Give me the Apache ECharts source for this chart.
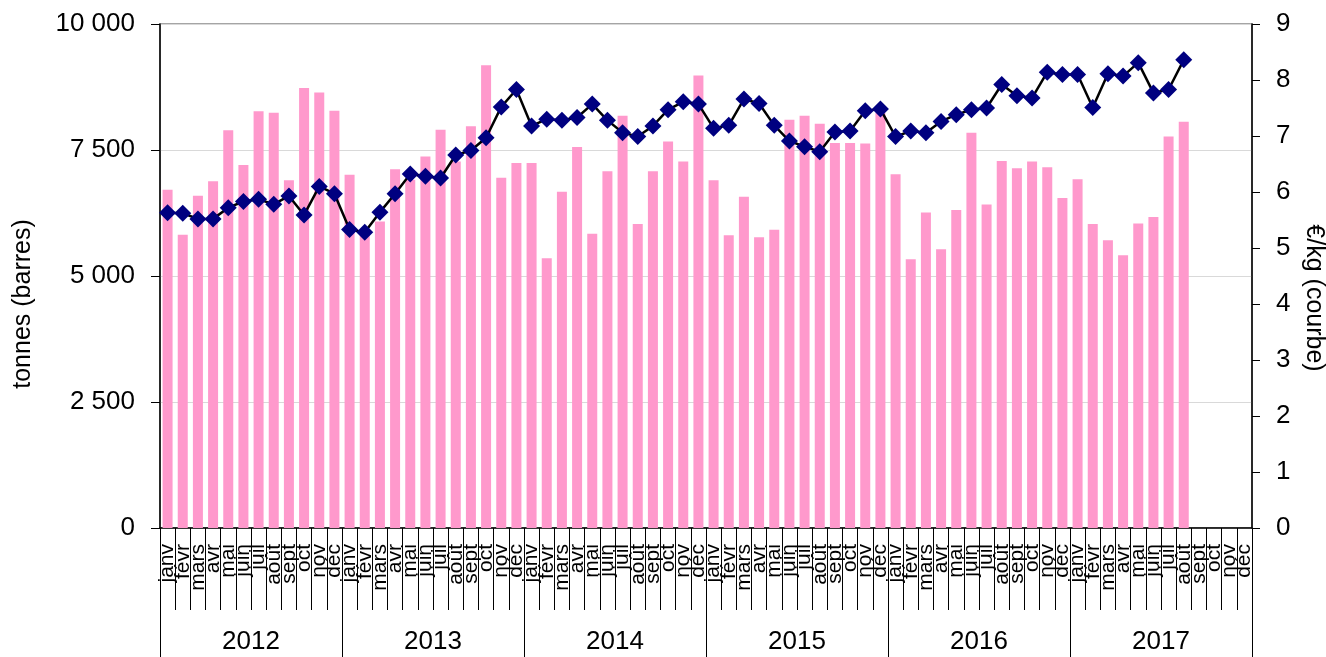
<!DOCTYPE html>
<html lang="fr">
<head>
    <meta charset="UTF-8">
    <title>tonnes et prix</title>
    <script src="https://cdn.jsdelivr.net/npm/echarts@6/dist/echarts.min.js"></script>
    <style>
        html, body { margin: 0; padding: 0; background: #fff; }
        .box { width: 1326px; height: 657px; }
    </style>
</head>
<body>
<div id="chart" class="box"></div>
<script>
    var mois = ['janv', 'févr', 'mars', 'avr', 'mai', 'juin', 'juil', 'août', 'sept', 'oct', 'nov', 'déc'];
    var annees = ['2012', '2013', '2014', '2015', '2016', '2017'];

    // tonnes (barres), janv 2012 -> août 2017
    var tonnes = [
        6710, 5820, 6590, 6880, 7890, 7200, 8270, 8240, 6900, 8730, 8640, 8280,
        7010, 5850, 6080, 7120, 6910, 7370, 7900, 7270, 7970, 9180, 6950, 7240,
        7240, 5350, 6670, 7560, 5840, 7080, 8180, 6030, 7080, 7670, 7270, 8980,
        6900, 5810, 6570, 5770, 5920, 8100, 8180, 8020, 7640, 7640, 7630, 8240,
        7020, 5330, 6260, 5530, 6310, 7840, 6420, 7280, 7140, 7270, 7160, 6550,
        6920, 6030, 5710, 5410, 6040, 6170, 7770, 8060
    ];

    // €/kg (courbe)
    var prix = [
        5.63, 5.62, 5.52, 5.52, 5.72, 5.83, 5.87, 5.78, 5.93, 5.59, 6.10, 5.97,
        5.33, 5.28, 5.64, 5.97, 6.32, 6.28, 6.25, 6.66, 6.74, 6.97, 7.52, 7.83,
        7.18, 7.30, 7.28, 7.33, 7.57, 7.28, 7.06, 6.99, 7.18, 7.47, 7.61, 7.57,
        7.14, 7.19, 7.66, 7.58, 7.19, 6.91, 6.81, 6.72, 7.07, 7.09, 7.45, 7.48,
        6.99, 7.09, 7.06, 7.26, 7.38, 7.47, 7.50, 7.92, 7.72, 7.68, 8.14, 8.10,
        8.10, 7.51, 8.11, 8.07, 8.31, 7.77, 7.83, 8.36
    ];

    var categories = [];
    annees.forEach(function (a) {
        mois.forEach(function (m) { categories.push(m); });
    });

    var police = 'Liberation Sans, Arial, sans-serif';
    function milliers(v) {
        return String(v).replace(/\B(?=(\d{3})+(?!\d))/g, ' ');
    }

    var myChart = echarts.init(document.getElementById('chart'));
    var option = {
        animation: false,
        textStyle: { fontFamily: police, color: '#000' },
        grid: {
            left: 160, right: 74, top: 24, bottom: 129,
            outerBoundsMode: 'none',
            containLabel: false,
            show: true, borderColor: '#888', borderWidth: 1.5
        },
        xAxis: [
            {
                type: 'category',
                data: categories,
                position: 'bottom',
                axisLine: { show: true, lineStyle: { color: '#000', width: 1.5 } },
                axisTick: { show: true, interval: 0, length: 82, lineStyle: { color: '#000', width: 1 } },
                axisLabel: {
                    interval: 0, rotate: 90, margin: 16,
                    fontSize: 21, color: '#000', fontFamily: police
                }
            },
            {
                type: 'category',
                data: annees,
                position: 'bottom',
                axisLine: { show: false },
                axisTick: { show: true, length: 130, lineStyle: { color: '#000', width: 1 } },
                axisLabel: { margin: 101, fontSize: 26, color: '#000', fontFamily: police }
            }
        ],
        yAxis: [
            {
                type: 'value',
                min: 0, max: 10000, interval: 2500,
                position: 'left',
                name: 'tonnes (barres)',
                nameLocation: 'middle',
                nameRotate: 90,
                nameGap: 124,
                nameTextStyle: { fontSize: 25, color: '#000', fontFamily: police, padding: [0, 56, 0, 0] },
                axisLine: { show: true, lineStyle: { color: '#000', width: 1.5 } },
                axisTick: { show: true, length: 9, lineStyle: { color: '#000' } },
                splitLine: { show: true, lineStyle: { color: '#d9d9d9', width: 1 } },
                axisLabel: { fontSize: 26, margin: 25, color: '#000', fontFamily: police, formatter: milliers }
            },
            {
                type: 'value',
                min: 0, max: 9, interval: 1,
                position: 'right',
                name: '€/kg (courbe)',
                nameLocation: 'middle',
                nameRotate: -90,
                nameGap: 49,
                nameTextStyle: { fontSize: 25, color: '#000', fontFamily: police, padding: [0, 0, 0, 44] },
                axisLine: { show: true, lineStyle: { color: '#000', width: 1.5 } },
                axisTick: { show: true, length: 8, lineStyle: { color: '#000' } },
                splitLine: { show: false },
                axisLabel: { fontSize: 26, margin: 24, color: '#000', fontFamily: police }
            }
        ],
        series: [
            {
                name: 'tonnes',
                type: 'bar',
                xAxisIndex: 0,
                yAxisIndex: 0,
                data: tonnes,
                barWidth: 10,
                itemStyle: { color: '#ff99cc' }
            },
            {
                name: '€/kg',
                type: 'line',
                xAxisIndex: 0,
                yAxisIndex: 1,
                data: prix,
                symbol: 'diamond',
                symbolSize: 17,
                lineStyle: { color: '#000', width: 2.5 },
                itemStyle: { color: '#000080' }
            }
        ]
    };
    myChart.setOption(option);
</script>
</body>
</html>
